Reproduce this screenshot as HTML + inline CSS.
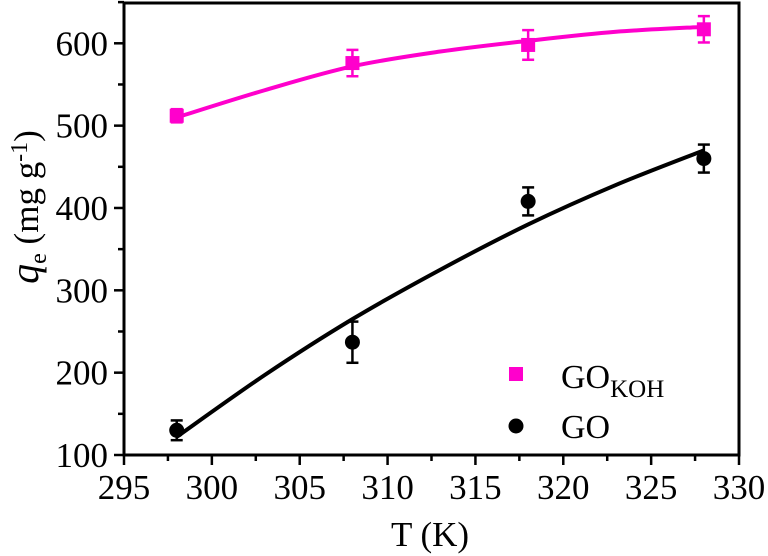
<!DOCTYPE html>
<html><head><meta charset="utf-8"><style>
body{margin:0;background:#fff}
svg{display:block;font-family:"Liberation Serif",serif}
</style></head><body>
<svg id="chart" width="768" height="556" viewBox="0 0 768 556">
<rect x="124" y="3" width="615" height="452" fill="none" stroke="#000" stroke-width="3"/>
<g id="axes"></g>
<g id="series"></g>
<text x="430" y="546" font-size="35" text-anchor="middle">T (K)</text>
<text transform="translate(38,207) rotate(-90)" font-size="35" text-anchor="middle"><tspan font-style="italic" font-size="40">q</tspan><tspan font-size="24" dy="8">e</tspan><tspan dy="-8"> (mg g</tspan><tspan font-size="24" dy="-11">-1</tspan><tspan dy="11">)</tspan></text>
<rect x="509" y="367" width="14" height="14" fill="#ff00cc"/>
<text x="561" y="388" font-size="34">GO<tspan font-size="25" dy="9">KOH</tspan></text>
<circle cx="516" cy="426" r="7.5" fill="#000"/>
<text x="561" y="438" font-size="34">GO</text>
</svg>
<script>
const temps=[298,308,318,328];
const gokohVals=[512,576,598,617];
const gokohErr=[8,16,18,16];
const goVals=[130,237,408,460];
const goErr=[12,25,17,17];
const fitT=[298,303,308,313,318,323,328];
const gokohFit=[510,543,572,590,603,614,620];
const goFit=[122,197,265,325,380,428,470];
const xTicks=[295,300,305,310,315,320,325,330];
const yTicks=[100,200,300,400,500,600];

const NS="http://www.w3.org/2000/svg";
const X=v=>124+(v-295)*(615/35);
const Y=v=>455-(v-100)*(411.7/500);
function mk(t,a,p){const e=document.createElementNS(NS,t);for(const k in a)e.setAttribute(k,a[k]);p.appendChild(e);return e;}
const ax=document.getElementById('axes'),se=document.getElementById('series');
xTicks.forEach((t,i)=>{
  const l=mk('line',{x1:X(t),x2:X(t),y1:455,y2:465,stroke:'#000','stroke-width':2.5},ax);
  
  
  if(i<xTicks.length-1){const m=mk('line',{x1:X(t+2.5),x2:X(t+2.5),y1:455,y2:461,stroke:'#000','stroke-width':2.5},ax);
  
  }
  const tx=mk('text',{x:X(t),y:499,'font-size':35,'text-anchor':'middle'},ax);tx.textContent=t;
  
  
});
yTicks.forEach((t,i)=>{
  const l=mk('line',{x1:114,x2:124,y1:Y(t),y2:Y(t),stroke:'#000','stroke-width':2.5},ax);
  
  
  const m=mk('line',{x1:118,x2:124,y1:Y(t+50),y2:Y(t+50),stroke:'#000','stroke-width':2.5},ax);
  
  
  const tx=mk('text',{x:108,y:Y(t)+12,'font-size':35,'text-anchor':'end'},ax);tx.textContent=t;
  
  
});
function curve(vals,color,name){
  let d='M'+X(fitT[0])+','+Y(vals[0]);
  for(let i=0;i<fitT.length-1;i++){
    const p0=i>0?i-1:i,p3=i+2<fitT.length?i+2:i+1;
    const x0=X(fitT[p0]),y0=Y(vals[p0]),x1=X(fitT[i]),y1=Y(vals[i]),x2=X(fitT[i+1]),y2=Y(vals[i+1]),x3=X(fitT[p3]),y3=Y(vals[p3]);
    d+=` C${x1+(x2-x0)/6},${y1+(y2-y0)/6} ${x2-(x3-x1)/6},${y2-(y3-y1)/6} ${x2},${y2}`;
  }
  const p=mk('path',{d:d,fill:'none',stroke:color,'stroke-width':4},se);
  
  
}
curve(gokohFit,'#ff00cc','gokoh-fit-curve');
curve(goFit,'#000','go-fit-curve');
function points(vals,errs,color,sq,name){
  vals.forEach((v,i)=>{
    const x=X(temps[i]),y=Y(v),yt=Y(v+errs[i]),yb=Y(v-errs[i]);
    const g=mk('g',{stroke:color,'stroke-width':2.5},se);
    
    
    mk('line',{x1:x,x2:x,y1:yt,y2:yb},g);
    mk('line',{x1:x-6,x2:x+6,y1:yt,y2:yt},g);
    mk('line',{x1:x-6,x2:x+6,y1:yb,y2:yb},g);
    const m=sq?mk('rect',{x:x-7,y:y-7,width:14,height:14,fill:color},se):mk('circle',{cx:x,cy:y,r:7.5,fill:color},se);
    
    
  });
}
points(gokohVals,gokohErr,'#ff00cc',true,'gokoh');
points(goVals,goErr,'#000',false,'go');
</script>
</body></html>
